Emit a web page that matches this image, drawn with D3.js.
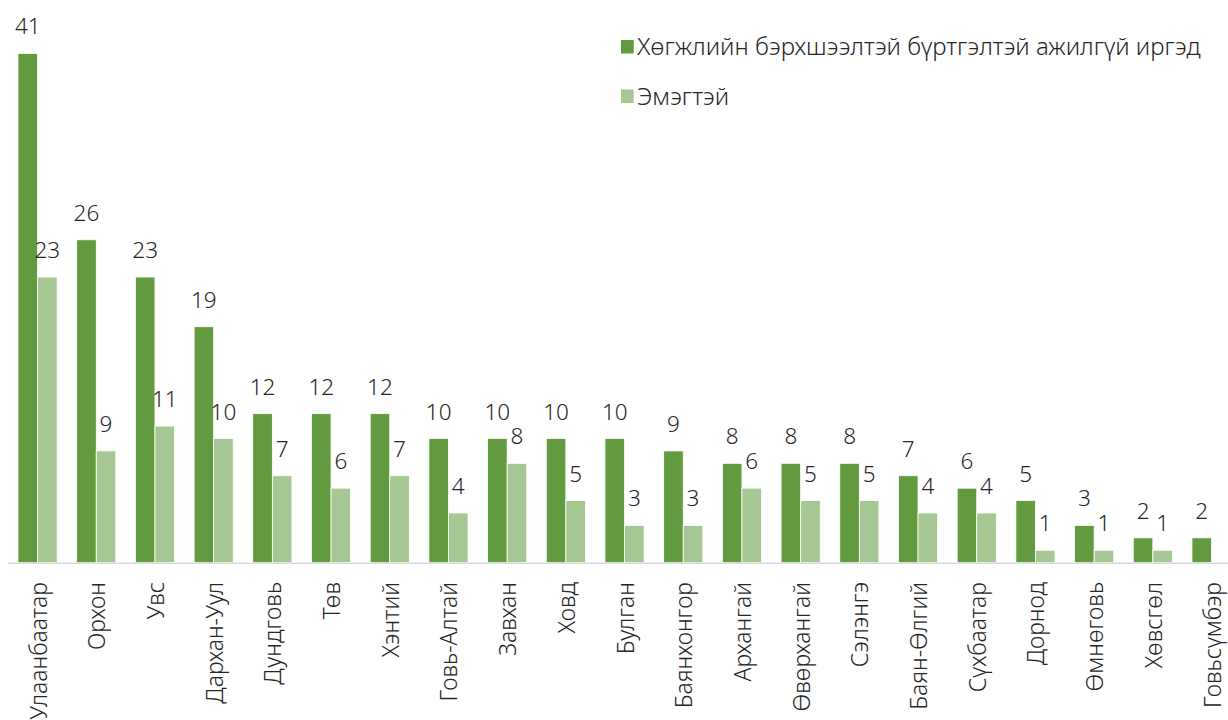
<!DOCTYPE html>
<html>
<head>
<meta charset="utf-8">
<script src="https://cdn.jsdelivr.net/npm/d3@7"></script>
<style>
  html, body { margin: 0; padding: 0; background: #fff; }
  svg { display: block; font-family: "Noto Sans", "Open Sans", sans-serif; font-weight: 300; }
</style>
</head>
<body>
<div id="chart"></div>
<script>
const aimags = ['Улаанбаатар','Орхон','Увс','Дархан-Уул','Дундговь','Төв','Хэнтий','Говь-Алтай','Завхан','Ховд','Булган','Баянхонгор','Архангай','Өвөрхангай','Сэлэнгэ','Баян-Өлгий','Сүхбаатар','Дорнод','Өмнөговь','Хөвсгөл','Говьсүмбэр'];
const totalVals = [41,26,23,19,12,12,12,10,10,10,10,9,8,8,8,7,6,5,3,2,2];
const femaleVals = [23,9,11,10,7,6,7,4,8,5,3,3,6,5,5,4,4,1,1,1,null];
const seriesNames = ['Хөгжлийн бэрхшээлтэй бүртгэлтэй ажилгүй иргэд','Эмэгтэй'];
const seriesColors = ['#629b3f','#a5c792'];

const W = 1228, H = 720;
const svg = d3.select('#chart').append('svg').attr('width', W).attr('height', H);

const bw = 58.7;
const x0 = d3.scaleBand().domain(aimags).range([8.2, 8.2 + bw * aimags.length]).padding(0);
const x1 = d3.scaleBand().domain([0, 1]).range([bw / 6, bw * 5 / 6]).padding(0);
const y = d3.scaleLinear().domain([0, 45]).range([562.7, 3.8]);

const rows = aimags.map((a, i) => ({ a, vals: [totalVals[i], femaleVals[i]] }));

const groups = svg.append('g').selectAll('g.grp')
  .data(rows).join('g')
  .attr('transform', d => `translate(${x0(d.a)},0)`);

const cells = groups.selectAll('g.cell')
  .data(d => d.vals.map((v, k) => ({ v, k })).filter(c => c.v != null))
  .join('g');

cells.append('rect')
  .attr('x', c => x1(c.k))
  .attr('width', x1.bandwidth())
  .attr('y', c => y(c.v))
  .attr('height', c => y(0) - y(c.v))
  .attr('fill', c => seriesColors[c.k])
  .attr('stroke', '#fff')
  .attr('stroke-width', 0.8);

cells.append('text')
  .attr('x', c => x1(c.k) + x1.bandwidth() / 2)
  .attr('y', c => y(c.v) - 19)
  .attr('text-anchor', 'middle')
  .attr('font-size', 22.5)
  .attr('fill', '#262626')
  .text(c => c.v);

// baseline
svg.append('line')
  .attr('x1', 8).attr('x2', W)
  .attr('y1', y(0) + 0.5).attr('y2', y(0) + 0.5)
  .attr('stroke', '#d9d9d9').attr('stroke-width', 1.5);

// category labels
svg.append('g').selectAll('text')
  .data(aimags).join('text')
  .attr('transform', d => `translate(${x0(d) + bw / 2 + 9},582) rotate(-90)`)
  .attr('text-anchor', 'end')
  .attr('font-size', 23)
  .attr('fill', '#262626')
  .text(d => d);

// legend
const leg = svg.append('g').selectAll('g')
  .data(seriesNames).join('g')
  .attr('transform', (d, i) => `translate(621,${46.5 + i * 49.5})`);
leg.append('rect')
  .attr('x', 0).attr('y', -6.5).attr('width', 12.7).attr('height', 13.5)
  .attr('fill', (d, i) => seriesColors[i]);
leg.append('text')
  .attr('x', 16).attr('y', 8.5)
  .attr('font-size', 24)
  .attr('fill', '#262626')
  .text(d => d);
</script>
</body>
</html>
